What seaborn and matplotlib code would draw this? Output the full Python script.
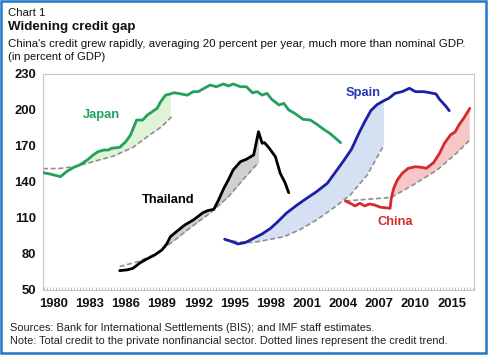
import numpy as np
import pandas as pd
import matplotlib
matplotlib.use("Agg")
import matplotlib.pyplot as plt
from matplotlib.patches import Rectangle
from matplotlib.ticker import MultipleLocator
import seaborn as sns

# ---------------- data ----------------
japan_years = [1979.15, 1979.7, 1980.6, 1981.1, 1981.7, 1982.2, 1982.8, 1983.3, 1983.7, 1984.2,
               1984.6, 1984.8, 1985.5, 1986.0, 1986.4, 1986.9, 1987.4, 1987.8, 1988.2, 1988.6,
               1988.9, 1989.3, 1989.7, 1990.0, 1990.6, 1991.1, 1991.6, 1992.0, 1992.5, 1993.0,
               1993.5, 1994.1, 1994.5, 1994.9, 1995.5, 1996.0, 1996.5, 1996.9, 1997.3, 1997.7,
               1998.1, 1998.7, 1999.1, 1999.5, 2000.0, 2000.7, 2001.3, 2001.8, 2002.4, 2002.9,
               2003.4, 2003.8]
japan_vals = [147.5, 146.5, 144.2, 148.4, 152.0, 154.0, 158.0, 162.2, 165.0, 166.4,
              166.4, 167.8, 168.6, 173.3, 178.9, 191.3, 191.3, 195.5, 198.3, 201.0,
              206.6, 212.0, 213.0, 214.0, 213.0, 212.0, 214.9, 214.9, 217.7, 220.4,
              219.0, 221.3, 219.6, 221.3, 219.0, 219.0, 214.0, 214.9, 212.0, 213.5,
              208.5, 203.8, 205.2, 199.7, 196.9, 191.9, 191.3, 188.0, 183.6, 180.3,
              176.0, 172.5]
japan_trend_years = [1979.15, 1980.5, 1981.7, 1983.3, 1985.0, 1986.6, 1988.0, 1989.0, 1989.8]
japan_trend_vals = [150.9, 151.0, 152.5, 156.7, 161.4, 168.6, 179.0, 186.0, 194.0]

thai_years = [1985.5, 1986.1, 1986.6, 1987.2, 1987.7, 1988.4, 1989.0, 1989.4, 1989.7, 1990.2,
              1990.9, 1991.6, 1992.4, 1992.8, 1993.3, 1993.7, 1994.1, 1994.5, 1994.9, 1995.5,
              1996.0, 1996.6, 1997.0, 1997.3, 1997.5, 1997.9, 1998.4, 1998.8, 1999.2, 1999.5]
thai_vals = [66.1, 66.7, 68.0, 72.7, 75.5, 79.1, 83.3, 88.3, 94.3, 98.5,
             104.1, 108.2, 114.3, 116.0, 117.1, 125.0, 134.0, 141.5, 149.8, 156.7,
             158.7, 162.3, 181.6, 172.0, 172.5, 167.8, 160.8, 147.0, 139.2, 130.9]
thai_trend_years = [1985.5, 1987.0, 1988.5, 1990.0, 1991.5, 1993.0, 1994.5, 1996.0, 1997.0]
thai_trend_vals = [69.5, 73.5, 80.0, 91.0, 103.0, 114.0, 127.5, 145.0, 156.0]

spain_years = [1994.2, 1994.8, 1995.3, 1995.9, 1996.6, 1997.3, 1998.0, 1998.6, 1999.3, 2000.2,
               2001.0, 2001.8, 2002.7, 2003.3, 2004.0, 2004.7, 2005.3, 2005.8, 2006.3, 2006.8,
               2007.4, 2007.8, 2008.3, 2008.9, 2009.5, 2010.0, 2010.7, 2011.2, 2011.7, 2012.0,
               2012.5, 2012.8]
spain_vals = [92.2, 90.2, 88.3, 89.4, 93.0, 96.6, 101.3, 106.8, 113.8, 120.7,
              126.3, 131.7, 138.7, 147.0, 156.7, 167.0, 180.0, 190.0, 199.0, 204.0,
              207.5, 209.4, 213.5, 214.9, 217.7, 214.9, 214.9, 214.0, 213.0, 208.5,
              203.0, 199.1]
spain_trend_years = [1994.2, 1995.3, 1996.5, 1997.4, 1999.1, 2000.4, 2001.8, 2003.2, 2004.6, 2006.0, 2007.4]
spain_trend_vals = [92.0, 90.0, 89.5, 91.0, 94.3, 100.0, 108.2, 118.0, 129.0, 145.6, 170.6]

china_years = [2004.2, 2004.6, 2005.0, 2005.4, 2005.8, 2006.2, 2006.6, 2007.1, 2007.5, 2007.9,
               2008.0, 2008.2, 2008.5, 2008.9, 2009.4, 2010.0, 2010.5, 2010.9, 2011.5, 2012.0,
               2012.4, 2012.9, 2013.3, 2013.6, 2014.0, 2014.5]
china_vals = [124.0, 122.1, 119.9, 122.1, 119.9, 121.5, 120.7, 118.8, 118.4, 117.9,
              126.3, 134.6, 141.5, 147.0, 151.2, 152.5, 152.0, 151.2, 155.9, 163.7,
              172.0, 178.9, 181.6, 187.2, 192.8, 201.0]
china_trend_years = [2004.2, 2008.0, 2009.8, 2011.8, 2013.4, 2014.5]
china_trend_vals = [124.0, 127.0, 137.3, 149.8, 163.7, 174.7]

tick_positions = [1980, 1983, 1986, 1989, 1992, 1995, 1998, 2001, 2004, 2007, 2010, 2013]
tick_labels = ["1980", "1983", "1986", "1989", "1992", "1995", "1998", "2001", "2004", "2007", "2010", "2015"]
y_ticks = [50, 80, 110, 140, 170, 200, 230]

# ---------------- styling ----------------
sns.set_theme(style="white")
plt.rcParams['font.family'] = ['Liberation Sans', 'DejaVu Sans']

fig = plt.figure(figsize=(4.9, 3.55), dpi=100)
ax = fig.add_axes([43/490, 1-290/355, (474-43)/490, (290-73.5)/355])

series = [
    ("Japan", japan_years, japan_vals, japan_trend_years, japan_trend_vals, "#23a05c", "#dff3d6"),
    ("Thailand", thai_years, thai_vals, thai_trend_years, thai_trend_vals, "#000000", "#cfd0d2"),
    ("Spain", spain_years, spain_vals, spain_trend_years, spain_trend_vals, "#1b1fa8", "#d5e1f3"),
    ("China", china_years, china_vals, china_trend_years, china_trend_vals, "#d42a2e", "#f7c6c6"),
]

for name, yx, yv, tx, tv, col, fcol in series:
    yx = np.array(yx); yv = np.array(yv)
    tx = np.array(tx); tv = np.array(tv)
    mask = (yx >= tx.min()) & (yx <= tx.max())
    fx = yx[mask]; fy = yv[mask]
    ft = np.interp(fx, tx, tv)
    ax.fill_between(fx, fy, ft, where=fy >= ft, interpolate=True, color=fcol, lw=0, zorder=1)
    sns.lineplot(x=tx, y=tv, ax=ax, color="#8f8f8f", lw=1.2, linestyle=(0, (3, 1.6)), zorder=2)
    sns.lineplot(x=yx, y=yv, ax=ax, color=col, lw=2.0, zorder=3)

lab_kw = dict(fontsize=9.3, fontweight="bold", ha="center", va="center")
ax.text(1984.0, 195.5, "Japan", color="#23a05c", **lab_kw)
ax.text(1989.5, 124.8, "Thailand", color="#000000", **lab_kw)
ax.text(2005.7, 213.5, "Spain", color="#2a37b0", **lab_kw)
ax.text(2008.3, 106.8, "China", color="#d42a2e", **lab_kw)

ax.set_xlim(1979.15, 2014.85)
ax.set_ylim(50, 230)
ax.set_xticks(tick_positions)
ax.set_xticklabels(tick_labels)
ax.set_yticks(y_ticks)
ax.xaxis.set_minor_locator(MultipleLocator(0.25))
ax.tick_params(axis="x", which="both", direction="in", length=2.5, width=0.6, color="#b0b0b0", bottom=True)
ax.tick_params(axis="x", which="major", pad=6)
ax.tick_params(axis="y", length=0, pad=5)
for lab in ax.get_xticklabels() + ax.get_yticklabels():
    lab.set_fontweight("bold")
    lab.set_fontsize(9.4)
    lab.set_color("#111111")
for s in ax.spines.values():
    s.set_color("#c8c8c8")
    s.set_linewidth(0.8)
ax.set_xlabel("")
ax.set_ylabel("")

fig.text(8/490, 1-13/355, "Chart 1", fontsize=8.2, va="center", ha="left", color="#111111")
fig.text(8/490, 1-27/355, "Widening credit gap", fontsize=9.6, fontweight="bold", va="center", ha="left", color="#111111")
fig.text(8/490, 1-44/355, "China's credit grew rapidly, averaging 20 percent per year, much more than nominal GDP.",
         fontsize=8.25, va="center", ha="left", color="#111111")
fig.text(8/490, 1-57/355, "(in percent of GDP)", fontsize=8.1, va="center", ha="left", color="#111111")
fig.text(10/490, 1-328/355, "Sources: Bank for International Settlements (BIS); and IMF staff estimates.",
         fontsize=7.95, va="center", ha="left", color="#222222")
fig.text(10/490, 1-341/355, "Note: Total credit to the private nonfinancial sector. Dotted lines represent the credit trend.",
         fontsize=7.95, va="center", ha="left", color="#222222")

fig.patches.append(Rectangle((1/490, 2/355), 485/490, 352/355, transform=fig.transFigure,
                             fill=False, edgecolor="#1f78c8", linewidth=1.8))

fig.savefig("out.png", dpi=100)
